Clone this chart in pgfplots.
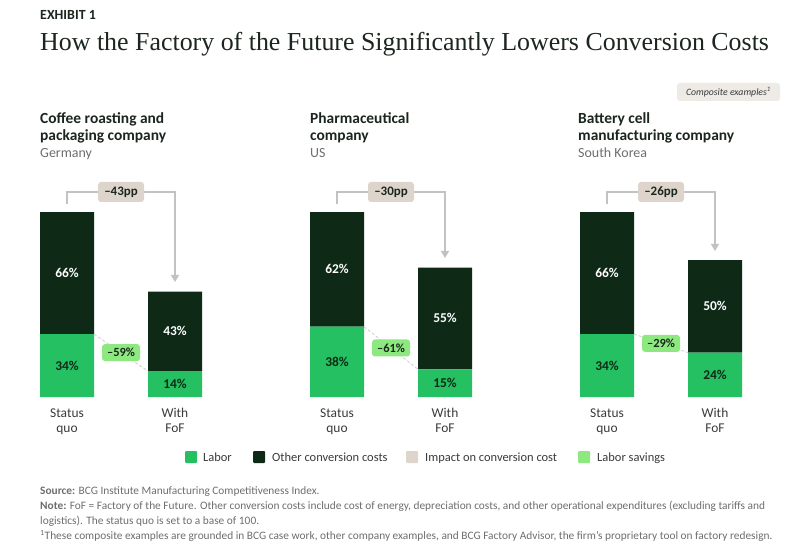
\documentclass[border=0pt]{standalone}
\usepackage{fontspec}
\setmainfont{Carlito}
\newfontfamily\seriffont{Liberation Serif}
\usepackage{pgfplots}
\pgfplotsset{compat=1.18}
\usepackage{pgfplotstable}
\usetikzlibrary{arrows.meta}
\definecolor{labor}{HTML}{24C062}
\definecolor{other}{HTML}{0E2916}
\definecolor{impact}{HTML}{DDD5CB}
\definecolor{savings}{HTML}{8DE97F}
\definecolor{boxbg}{HTML}{EEEBE7}
\definecolor{ink}{HTML}{1B261E}
\definecolor{greytext}{HTML}{6E6E6E}
\definecolor{midtext}{HTML}{3A3A3A}
\definecolor{arrowgray}{HTML}{C2C2C2}

\pgfplotstableread{
x labor other
0   34 66
1   14 43
2.5 38 62
3.5 15 55
5   34 66
6   24 50
}\costs

\pgfplotstableread{
x ylab yoth lab oth
0   17   67   34 66
1   7    35.5 14 43
2.5 19   69   38 62
3.5 7.5  42.5 15 55
5   17   67   34 66
6   12   49   24 50
}\labels

\newcommand{\fs}[1]{\fontsize{#1}{#1}\selectfont}

\begin{document}
\begin{tikzpicture}
\begin{scope}[x=1bp,y=-1bp]
\path[use as bounding box, fill=white] (0,0) rectangle (810,553);
\end{scope}

\begin{axis}[at={(13bp,-397bp)}, anchor=south west, scale only axis,
  width=756bp, height=185bp, xmin=-0.5, xmax=6.5, ymin=0, ymax=100,
  hide axis, clip=false, ybar stacked, bar width=0.5]
\addplot[fill=labor, draw=none] table[x=x,y=labor]{\costs};
\addplot[fill=other, draw=none] table[x=x,y=other]{\costs};
\end{axis}

\begin{axis}[at={(13bp,-397bp)}, anchor=south west, scale only axis,
  width=756bp, height=185bp, xmin=-0.5, xmax=6.5, ymin=0, ymax=100,
  hide axis, clip=false]
\addplot[draw=none, mark=none, point meta=explicit symbolic,
  nodes near coords={\pgfplotspointmeta\%},
  every node near coord/.append style={anchor=center, text=other, font=\bfseries\fs{13.5}}]
  table[x=x,y=ylab,meta=lab]{\labels};
\addplot[draw=none, mark=none, point meta=explicit symbolic,
  nodes near coords={\pgfplotspointmeta\%},
  every node near coord/.append style={anchor=center, text=white, font=\bfseries\fs{13.5}}]
  table[x=x,y=yoth,meta=oth]{\labels};
\end{axis}

\begin{scope}[x=1bp,y=-1bp]
% header
\node[anchor=base west, inner sep=0, text=ink, font=\bfseries\fs{14}] at (40,20) {EXHIBIT 1};
\node[anchor=base west, inner sep=0, text=ink, font=\seriffont\fs{26}] at (40,51) {How the Factory of the Future Significantly Lowers Conversion Costs};
\node[fill=boxbg, rounded corners=3bp, minimum width=103bp, minimum height=18bp, inner sep=0,
  text=midtext, font=\itshape\fs{9.8}] at (728.5,92) {Composite examples\textsuperscript{1}};

% panel headers
\foreach \px/\la/\lb/\lc in {40/Coffee roasting and/packaging company/Germany,
  310/Pharmaceutical/company/US, 578/Battery cell/manufacturing company/South Korea}{
  \node[anchor=base west, inner sep=0, text=ink, font=\bfseries\fs{15.5}] at (\px,124) {\la};
  \node[anchor=base west, inner sep=0, text=ink, font=\bfseries\fs{15.5}] at (\px,141) {\lb};
  \node[anchor=base west, inner sep=0, text=greytext, font=\fs{14}] at (\px,158) {\lc};
}

% bar category labels
\foreach \p in {0,270,540}{
  \node[anchor=base, inner sep=0, text=midtext, font=\fs{13.5}] at (67+\p,417) {Status};
  \node[anchor=base, inner sep=0, text=midtext, font=\fs{13.5}] at (67+\p,432) {quo};
  \node[anchor=base, inner sep=0, text=midtext, font=\fs{13.5}] at (175+\p,417) {With};
  \node[anchor=base, inner sep=0, text=midtext, font=\fs{13.5}] at (175+\p,432) {FoF};
}

% connectors
\foreach \p/\e/\t in {0/282/–43pp, 270/258/–30pp, 540/251/–26pp}{
  \draw[arrowgray, line width=1.2bp, -{Triangle[width=8bp,length=7bp]}]
    (67+\p,204) -- (67+\p,192) -- (175+\p,192) -- (175+\p,\e);
  \node[fill=impact, rounded corners=3bp, minimum width=46bp, minimum height=20bp, inner sep=0,
    text=ink, font=\bfseries\fs{13}] at (121+\p,192) {\t};
}
\foreach \p/\a/\b/\t in {0/334.1/371.1/–59\%, 270/326.7/369.25/–61\%, 540/334.1/352.6/–29\%}{
  \draw[arrowgray!80, dash pattern=on 3bp off 2bp, line width=0.8bp] (94+\p,\a) -- (148+\p,\b);
  \node[fill=savings, rounded corners=3bp, minimum width=38bp, minimum height=17bp, inner sep=0,
    text=ink, font=\bfseries\fs{12.5}] at (121+\p,{(\a+\b)/2}) {\t};
}

% legend
\foreach \sx/\c/\tx/\lab in {185/labor/203/Labor, 253/other/272/Other conversion costs,
  406/impact/425/Impact on conversion cost, 578/savings/597/Labor savings}{
  \fill[\c, rounded corners=1bp] (\sx,451) rectangle (\sx+12,463);
  \node[anchor=base west, inner sep=0, text=midtext, font=\fs{12.5}] at (\tx,461) {\lab};
}

% footnotes
\node[anchor=base west, inner sep=0, text=greytext, font=\fs{11.4}] at (40,494) {\textbf{Source:} BCG Institute Manufacturing Competitiveness Index.};
\node[anchor=base west, inner sep=0, text=greytext, font=\fs{11.4}] at (40,509) {\textbf{Note:} FoF = Factory of the Future. Other conversion costs include cost of energy, depreciation costs, and other operational expenditures (excluding tariffs and};
\node[anchor=base west, inner sep=0, text=greytext, font=\fs{11.4}] at (40,524) {logistics). The status quo is set to a base of 100.};
\node[anchor=base west, inner sep=0, text=greytext, font=\fs{11.4}] at (40,539) {\textsuperscript{1}These composite examples are grounded in BCG case work, other company examples, and BCG Factory Advisor, the firm’s proprietary tool on factory redesign.};
\end{scope}
\end{tikzpicture}
\end{document}
